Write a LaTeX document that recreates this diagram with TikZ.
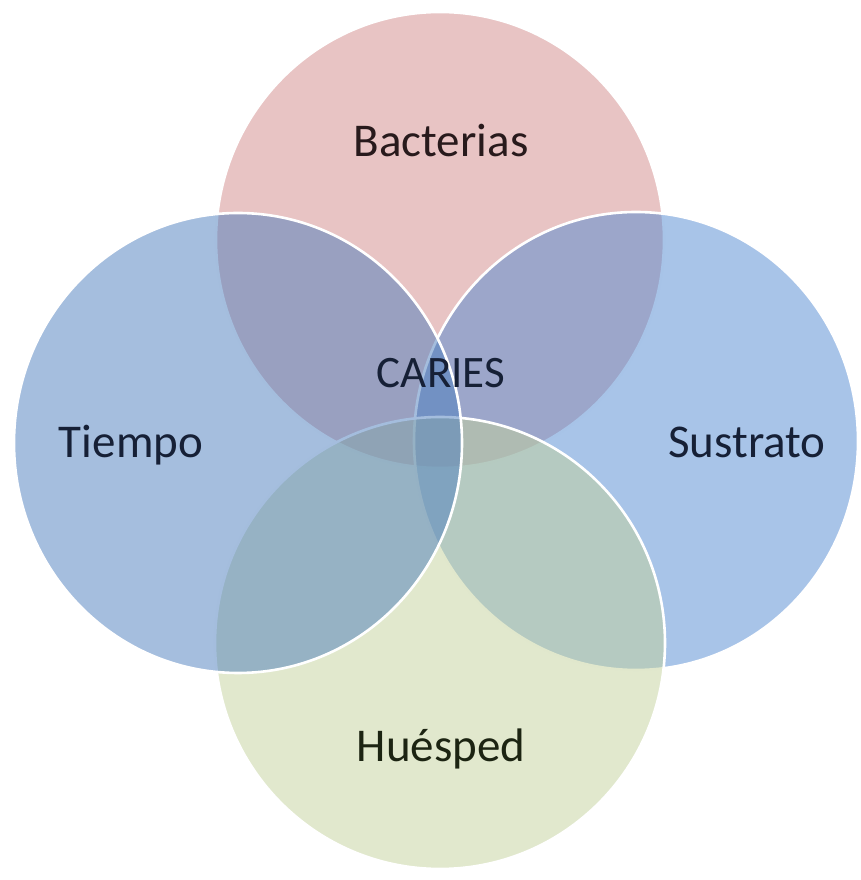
\documentclass[tikz,border=0pt]{standalone}
\usepackage{fontspec}
\setmainfont{Carlito}
\definecolor{pinkbase}{RGB}{209,137,137}
\definecolor{bluebase}{RGB}{75,125,189}
\definecolor{bluebaseR}{RGB}{81,137,209}
\definecolor{greenbase}{RGB}{195,209,155}
\definecolor{txtred}{RGB}{40,26,28}
\definecolor{txtblue}{RGB}{22,32,54}
\definecolor{txtgreen}{RGB}{28,36,18}
\tikzset{
  vennset/.style={fill=#1, fill opacity=0.5, draw=white, draw opacity=1, line width=2.6pt},
  setlabel/.style={anchor=base, inner sep=0pt, font=\fontsize{47}{56}\selectfont},
}
\begin{document}
\begin{tikzpicture}[x=1pt, y=1pt]
  \useasboundingbox (0,0) rectangle (860,880);
  % the four overlapping sets, drawn back to front
  \filldraw[vennset=pinkbase]   (440,640) ellipse [x radius=224, y radius=228];
  \filldraw[vennset=bluebaseR]  (636,439) ellipse [x radius=222, y radius=229];
  \filldraw[vennset=greenbase]  (440,237) ellipse [x radius=225, y radius=226];
  \filldraw[vennset=bluebase]   (238,437) ellipse [x radius=224, y radius=230];
  % labels
  \node[setlabel, text=txtred]   (bact) at (441,723) {Bacterias};
  \node[setlabel, text=txtblue]  (tiem) at (131,422) {Tiempo};
  \node[setlabel, text=txtblue]  (sust) at (747,422) {Sustrato};
  \node[setlabel, text=txtgreen] (hues) at (441,118) {Huésped};
  \node[setlabel, text=txtblue, font=\fontsize{45}{54}\selectfont] (car) at (441,492) {CARIES};
\end{tikzpicture}
\end{document}
